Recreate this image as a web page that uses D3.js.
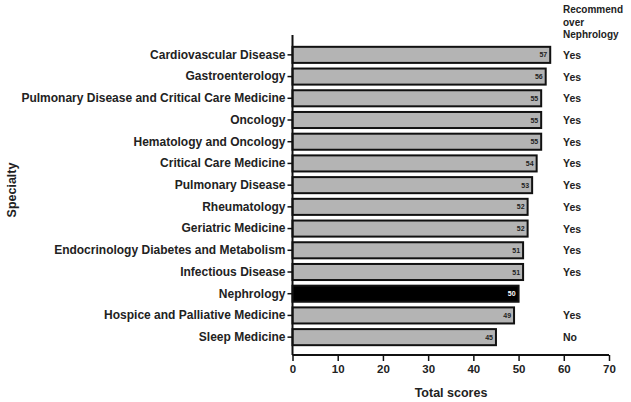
<!DOCTYPE html>
<html><head><meta charset="utf-8">
<script src="https://cdn.jsdelivr.net/npm/d3@7"></script>
<style>body{margin:0;background:#fff}svg{display:block}text{font-family:"Liberation Sans",Arial,sans-serif;font-weight:bold}</style>
</head><body><svg id="c" width="631" height="402"></svg>
<script>
const categories = ["Cardiovascular Disease","Gastroenterology","Pulmonary Disease and Critical Care Medicine","Oncology","Hematology and Oncology","Critical Care Medicine","Pulmonary Disease","Rheumatology","Geriatric Medicine","Endocrinology Diabetes and Metabolism","Infectious Disease","Nephrology","Hospice and Palliative Medicine","Sleep Medicine"];
const scores = [57,56,55,55,55,54,53,52,52,51,51,50,49,45];
const recommend = ["Yes","Yes","Yes","Yes","Yes","Yes","Yes","Yes","Yes","Yes","Yes","","Yes","No"];
const xTicks = [0,10,20,30,40,50,60,70];

const svg = d3.select("#c");
const x = d3.scaleLinear().domain([0,70]).range([292.5,609]);
const y = d3.scaleBand().domain(categories).range([44,348]).paddingInner(0.26).paddingOuter(0.13);

svg.selectAll("rect.bar").data(categories).join("rect")
  .attr("x", x(0)).attr("y", d=>y(d)).attr("height", y.bandwidth())
  .attr("width", (d,i)=>x(scores[i])-x(0))
  .attr("fill", d=>d==="Nephrology"?"#000":"#b4b4b4")
  .attr("stroke","#111").attr("stroke-width",2);

svg.selectAll("text.val").data(categories).join("text")
  .attr("x",(d,i)=>x(scores[i])-3).attr("y",d=>y(d)+y.bandwidth()/2+2.5)
  .attr("text-anchor","end").attr("font-size",7)
  .attr("fill",d=>d==="Nephrology"?"#fff":"#222")
  .text((d,i)=>scores[i]);

svg.selectAll("text.rec").data(categories).join("text")
  .attr("x",563).attr("y",d=>y(d)+y.bandwidth()/2+4)
  .attr("font-size",10.5).attr("fill","#222")
  .text((d,i)=>recommend[i]);

const hdr = svg.append("text").attr("x",563).attr("font-size",10).attr("fill","#222");
["Recommend","over","Nephrology"].forEach((t,i)=>hdr.append("tspan").attr("x",563).attr("y",13+i*12.5).text(t));

const yAxis = svg.append("g").attr("transform","translate(292.5,0)")
  .call(d3.axisLeft(y).tickSize(5).tickPadding(2));
yAxis.select(".domain").attr("d","M0,35V355").attr("stroke","#111").attr("stroke-width",2);
yAxis.selectAll(".tick line").attr("stroke","#111").attr("stroke-width",1.5);
yAxis.selectAll(".tick text").attr("font-size",12).attr("fill","#222").attr("font-family","Liberation Sans, Arial").attr("font-weight","bold");

const xAxis = svg.append("g").attr("transform","translate(0,355)")
  .call(d3.axisBottom(x).tickValues(xTicks).tickSize(6).tickPadding(4));
xAxis.select(".domain").attr("d","M292.5,0H609").attr("stroke","#111").attr("stroke-width",2);
xAxis.selectAll(".tick line").attr("stroke","#111").attr("stroke-width",1.5);
xAxis.selectAll(".tick text").attr("font-size",11.5).attr("fill","#222").attr("font-family","Liberation Sans, Arial").attr("font-weight","bold");

svg.append("text").attr("x",451).attr("y",397).attr("text-anchor","middle").attr("font-size",12.5).attr("fill","#222").text("Total scores");
svg.append("text").attr("transform","translate(16,190) rotate(-90)").attr("text-anchor","middle").attr("font-size",12.5).attr("fill","#222").text("Specialty");
</script></body></html>
